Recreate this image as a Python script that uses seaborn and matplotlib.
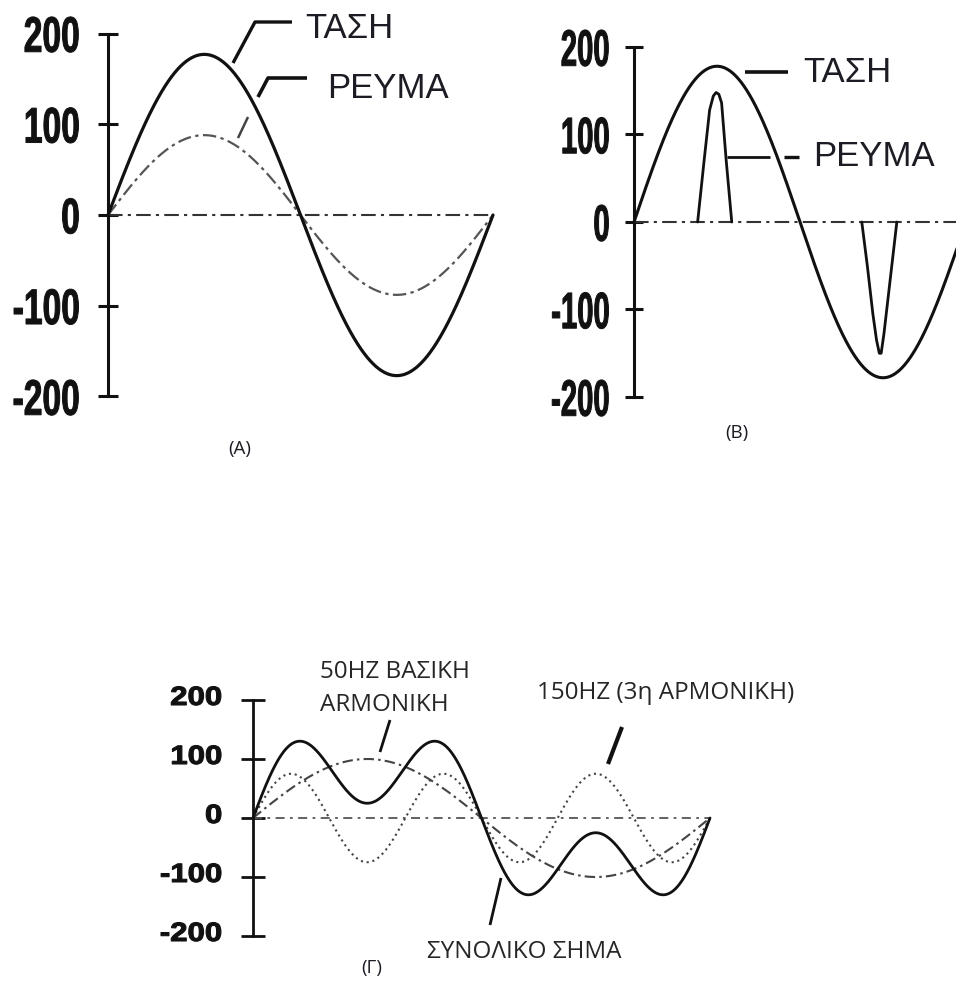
import numpy as np
import pandas as pd
import matplotlib
matplotlib.use("Agg")
import matplotlib.pyplot as plt
from matplotlib import patheffects
from matplotlib.lines import Line2D
from matplotlib.transforms import Affine2D
import seaborn as sns

# ---- data -------------------------------------------------------------
y_ticks = [200, 100, 0, -100, -200]
y_tick_labels = ["200", "100", "0", "-100", "-200"]

# (A) linear load: voltage and in-phase current (peak values)
voltage_peak_a = 177
current_peak_a = 88

# (B) rectifier load: sinusoidal voltage, current flows in short pulses
voltage_peak_b = 178
pulse_angle_deg = [69, 76, 82, 86, 89, 92, 95, 100, 106,
                   247, 253, 259, 263, 266, 268, 271, 278, 285]
pulse_current = [0, 70, 128, 144, 148, 146, 136, 70, 0,
                 0, -50, -105, -135, -150, -150, -128, -64, 0]
pulse_id = [1] * 9 + [2] * 9

# (Γ) fundamental (50 Hz) plus third harmonic (150 Hz)
harmonic_order = [1, 3]
harmonic_peak = [100, 75]

# ---- layout helpers ---------------------------------------------------
W, H, DPI = 956, 982, 100
INK = "#111111"
TEXT = "#1c1c24"

sns.set_theme(style="white")
plt.rcParams["font.family"] = ["Liberation Sans", "DejaVu Sans"]

fig = plt.figure(figsize=(W / DPI, H / DPI), dpi=DPI)
fig.patch.set_facecolor("white")


class Reshape(patheffects.AbstractPathEffect):
    """Draw glyphs scaled by sx about their right edge and by sy about
    their vertical centre, shifted up by dy pixels, with an optional thin
    outline that thickens the strokes."""

    def __init__(self, sx=1.0, sy=1.0, stroke=0.0, dy=0.0):
        super().__init__()
        self.sx, self.sy, self.dy = sx, sy, dy
        self._stroke = stroke

    def draw_path(self, renderer, gc, tpath, affine, rgbFace=None):
        ext = tpath.get_extents()
        x1, yc = ext.x1, 0.5 * (ext.y0 + ext.y1)
        reshape = (Affine2D().translate(-x1, -yc).scale(self.sx, self.sy)
                   .translate(x1, yc))
        shift = Affine2D().translate(0, self.dy)
        gc0 = renderer.new_gc()
        gc0.copy_properties(gc)
        gc0.set_linewidth(self._stroke)
        if rgbFace is not None:
            gc0.set_foreground(rgbFace)
        renderer.draw_path(gc0, tpath, reshape + affine + shift, rgbFace)
        gc0.restore()


def box(left, top, width, height):
    return [left / W, 1 - (top + height) / H, width / W, height / H]


def pt(px):
    return px * 72 / DPI


def style_axis(ax, size, half_tick, pad, lw, effect):
    ax.set_xlim(0, 360)
    ax.set_ylim(-200, 200)
    ax.patch.set_alpha(0)
    for side in ("top", "right", "bottom"):
        ax.spines[side].set_visible(False)
    ax.spines["left"].set_position(("data", 0))
    ax.spines["left"].set_linewidth(lw)
    ax.spines["left"].set_color(INK)
    ax.set_xticks([])
    ax.set_yticks(y_ticks)
    ax.set_yticklabels(y_tick_labels, fontsize=size, fontweight="bold",
                       color=INK)
    ax.tick_params(axis="y", direction="inout", length=pt(2 * half_tick),
                   width=lw, pad=pt(pad), color=INK, left=True)
    for t in ax.get_yticklabels():
        t.set_path_effects([effect])
    ax.set_xlabel("")
    ax.set_ylabel("")
    ax.grid(False)


def leader(points, lw=2.2, ls="-", color=INK):
    xs = [p[0] / W for p in points]
    ys = [1 - p[1] / H for p in points]
    fig.add_artist(Line2D(xs, ys, transform=fig.transFigure, color=color,
                          lw=lw, ls=ls, solid_capstyle="butt"))


def label(x, y, s, size, family=("Liberation Sans", "DejaVu Sans"),
          ha="left", color=TEXT):
    fig.text(x / W, 1 - y / H, s, fontsize=size, family=list(family),
             ha=ha, va="center", color=color)


calibri_like = ("Open Sans", "DejaVu Sans")

theta = np.linspace(0, 360, 721)
rad = np.deg2rad(theta)
zero_ls = (0, (7, 2.5, 1.5, 2.5))

# ---- (A) ----------------------------------------------------------------
ax_a = fig.add_axes(box(108, 33.5, 385, 363))
sns.lineplot(x=[0, 360], y=[0, 0], ax=ax_a, color="#333333", lw=1.5,
             linestyle=zero_ls, clip_on=False)
sns.lineplot(x=theta, y=current_peak_a * np.sin(rad), ax=ax_a,
             color="#555555", lw=1.6, linestyle=(0, (6, 2, 1.5, 2)),
             clip_on=False)
sns.lineplot(x=theta, y=voltage_peak_a * np.sin(rad), ax=ax_a,
             color=INK, lw=2.3, clip_on=False)
# tall, condensed numerals
style_axis(ax_a, 26, 10, 18, 2.2, Reshape(0.93, 1.385, 0.7))

leader([(233, 63), (255, 22), (292, 22)], lw=2.4)
leader([(238, 138), (248, 117)], lw=1.8, color="#444444")
leader([(258, 97), (268, 78), (307, 78)], lw=2.6)
label(305, 29, "ΤΑΣΗ", 25)
label(327, 89, "ΡΕΥΜΑ", 25)
label(240, 449, "(A)", 13.5, calibri_like, ha="center")

# ---- (B) ----------------------------------------------------------------
ax_b = fig.add_axes(box(634, 47, 332, 350))
sns.lineplot(x=[0, 360], y=[0, 0], ax=ax_b, color="#333333", lw=1.5,
             linestyle=zero_ls, clip_on=False)
pulses = pd.DataFrame({"angle": pulse_angle_deg, "current": pulse_current,
                       "pulse": pulse_id})
sns.lineplot(data=pulses, x="angle", y="current", units="pulse",
             estimator=None, sort=False, ax=ax_b, color=INK, lw=2.0,
             clip_on=False)
sns.lineplot(x=theta, y=voltage_peak_b * np.sin(rad), ax=ax_b,
             color=INK, lw=2.2, clip_on=False)
style_axis(ax_b, 26, 9, 15, 2.2, Reshape(0.81, 1.42, 0.7))

leader([(745, 72), (788, 72)], lw=2.6)
leader([(727, 157), (770, 157)], lw=2.0)
leader([(784, 157), (799, 157)], lw=2.4)
label(803, 72, "ΤΑΣΗ", 25)
label(813, 156, "ΡΕΥΜΑ", 25)
label(737, 433, "(B)", 13.5, calibri_like, ha="center")

# ---- (Γ) ----------------------------------------------------------------
ax_c = fig.add_axes(box(253, 700, 457, 236))
fundamental = harmonic_peak[0] * np.sin(harmonic_order[0] * rad)
third = harmonic_peak[1] * np.sin(harmonic_order[1] * rad)
sns.lineplot(x=[0, 360], y=[0, 0], ax=ax_c, color="#555555", lw=1.3,
             linestyle=(0, (5, 3, 1.5, 3)), clip_on=False)
sns.lineplot(x=theta, y=third, ax=ax_c, color="#444444", lw=1.5,
             linestyle=(0, (1, 1.8)), clip_on=False)
sns.lineplot(x=theta, y=fundamental, ax=ax_c, color="#444444", lw=1.5,
             linestyle=(0, (5, 2, 1.2, 2)), clip_on=False)
sns.lineplot(x=theta, y=fundamental + third, ax=ax_c, color=INK, lw=2.0,
             clip_on=False)
# wide, heavy numerals sitting slightly above their ticks
style_axis(ax_c, 17, 12, 19, 2.0, Reshape(1.32, 1.12, 0.8, dy=5))

leader([(390, 720), (380, 752)], lw=2.0)
leader([(622, 727), (608, 764)], lw=3.0)
leader([(501, 878), (490, 925)], lw=2.0)
label(320, 672, "50HZ ΒΑΣΙΚΗ", 17.5, calibri_like, color="#262626")
label(320, 705, "ARMONIKH", 17.5, calibri_like, color="#262626")
label(537, 693, "150HZ (3η ΑΡΜΟΝΙΚΗ)", 17.5, calibri_like, color="#262626")
label(524, 952, "ΣΥΝΟΛΙΚΟ ΣΗΜΑ", 17.5, calibri_like, ha="center",
      color="#262626")
label(372, 968, "(Γ)", 13.5, calibri_like, ha="center")

fig.savefig("out.png", dpi=DPI, facecolor="white")
